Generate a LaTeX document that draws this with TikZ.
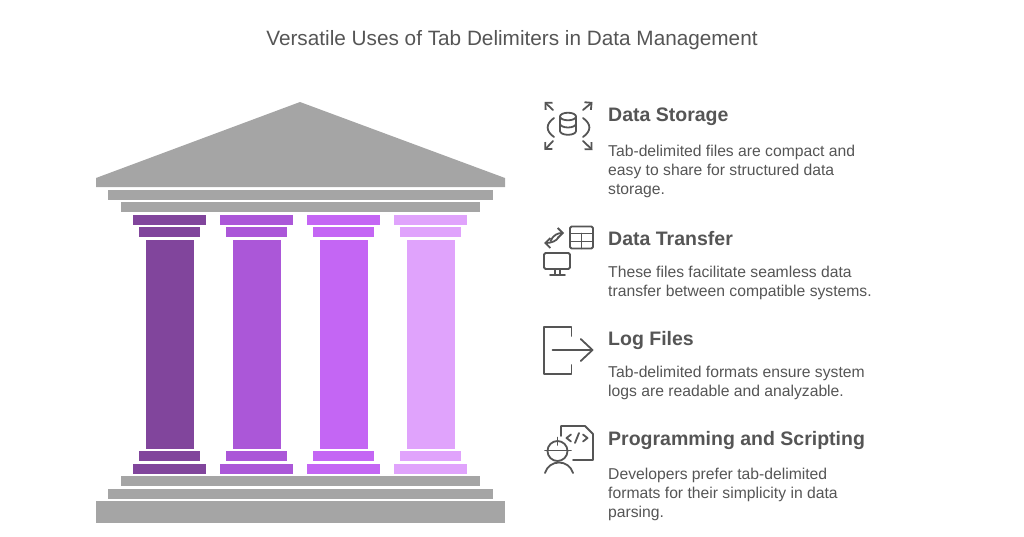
\documentclass[tikz,border=0pt]{standalone}
\usepackage{fontspec}
\usepackage{xcolor}
\usepackage{tikz}
\usetikzlibrary{positioning, arrows.meta}
\setmainfont{Liberation Sans}
\definecolor{inkgray}{HTML}{555555}
\definecolor{stonegray}{HTML}{A5A5A5}
\definecolor{pillarA}{HTML}{81459C}
\definecolor{pillarB}{HTML}{AB57D8}
\definecolor{pillarC}{HTML}{C466F4}
\definecolor{pillarD}{HTML}{E0A3FC}
\tikzset{
  heading/.style={anchor=base west, inner sep=0pt, text=inkgray, font=\fontsize{19.5}{23}\selectfont\bfseries},
  bodytext/.style={anchor=north west, inner sep=0pt, align=left,
    text=inkgray, font=\fontsize{15.7}{18.6}\selectfont},
  icon/.style={draw=inkgray, line width=1.8pt, line cap=round, line join=round},
  iconarrow/.style={icon, -{Straight Barb[length=5pt,width=10pt]}}
}
\begin{document}
\begin{tikzpicture}[x=1pt, y=-1pt]
    \useasboundingbox (0,0) rectangle (1024,536);
    \node[text=inkgray, font=\fontsize{20.75}{24}\selectfont] (title) at (512,40.5) {Versatile Uses of Tab Delimiters in Data Management};
    % roof and steps
    \fill[stonegray] (300,102) -- (505,178) -- (505,187) -- (96,187) -- (96,178) -- cycle;
    \fill[stonegray] (108,189.5) rectangle (493,199.5);
    \fill[stonegray] (120.5,202) rectangle (480,212);
    \fill[stonegray] (120.5,476) rectangle (480,486);
    \fill[stonegray] (108,488.5) rectangle (493,498.5);
    \fill[stonegray] (96,501) rectangle (505,523);
    % pillars
    \foreach \px/\pcol in {133/pillarA, 220/pillarB, 307/pillarC, 394/pillarD} {
      \fill[\pcol] (\px,214.5) rectangle ++(73,10);
      \fill[\pcol] (\px+6.2,227) rectangle ++(60.5,10);
      \fill[\pcol] (\px+12.5,239.5) rectangle ++(48,209);
      \fill[\pcol] (\px+6.2,451) rectangle ++(60.5,10);
      \fill[\pcol] (\px,463.5) rectangle ++(73,10);
    }
    % texts
    \node[heading] (storage) at (608,121) {Data Storage};
    \node[below=20pt of storage.south west, bodytext] (storagetext) {Tab-delimited files are compact and\\easy to share for structured data\\storage.};
    \node[heading] (transfer) at (608,245) {Data Transfer};
    \node[below=21pt of transfer.south west, bodytext] (transfertext) {These files facilitate seamless data\\transfer between compatible systems.};
    \node[heading] (logs) at (608,345) {Log Files};
    \node[below=17pt of logs.south west, bodytext] (logstext) {Tab-delimited formats ensure system\\logs are readable and analyzable.};
    \node[heading] (scripting) at (608,445) {Programming and Scripting};
    \node[below=19pt of scripting.south west, bodytext] (scriptingtext) {Developers prefer tab-delimited\\formats for their simplicity in data\\parsing.};
    % database icon
    \draw[icon] (560,116.5) arc (180:360:8 and 3.8) -- (576,131) arc (0:180:8 and 3.8) -- cycle;
    \draw[icon] (560,116.5) arc (180:0:8 and 3.8);
    \draw[icon] (560,123.7) arc (180:0:8 and 3.8);
    \draw[icon] (554,118) .. controls (545.5,124) and (545.5,131) .. (554,137);
    \draw[icon] (583,118) .. controls (591.5,124) and (591.5,131) .. (583,137);
    \draw[iconarrow] (553,110) -- (544.5,102);
    \draw[iconarrow] (583,110) -- (592.5,102);
    \draw[iconarrow] (553,141) -- (544.5,150);
    \draw[iconarrow] (583,141) -- (592.5,150);
    % transfer icon
    \draw[icon, rounded corners=1.5pt] (570,226.5) rectangle (593,248.5);
    \draw[icon] (570,233.5) -- (593,233.5) (570,241.5) -- (593,241.5) (581.5,233.5) -- (581.5,248.5);
    \draw[icon, rounded corners=1.5pt] (544,253) rectangle (570,269);
    \draw[icon] (555,269) -- (555,275) (560,269) -- (560,275) (550,275) -- (565,275);
    \draw[iconarrow] (550.5,241) .. controls (553,235) and (558,233) .. (564,233);
    \draw[iconarrow] (558.5,237) .. controls (557,241) and (551,243) .. (544,243);
    % log files icon
    \draw[icon] (571.5,336) -- (571.5,327) -- (544,327) -- (544,374) -- (571.5,374) -- (571.5,365);
    \draw[icon] (552.5,350) -- (592.5,350) (580.7,339) -- (592.5,350) -- (580.7,361);
    % programmer icon
    \draw[icon] (561,436) -- (561,426) -- (585,426) -- (593,434) -- (593,460) -- (573,460);
    \draw[icon] (571,434.5) -- (566.5,438) -- (571,441.5) (583,434.5) -- (587.5,438) -- (583,441.5) (579,433) -- (575,443);
    \draw[icon] (557.5,451) circle (10);
    \draw[icon] (545,450.5) -- (571,450.5) (557.5,437.5) -- (557.5,445);
    \draw[icon] (545,473) .. controls (549,459) and (569,459) .. (573,473);
\end{tikzpicture}
\end{document}
